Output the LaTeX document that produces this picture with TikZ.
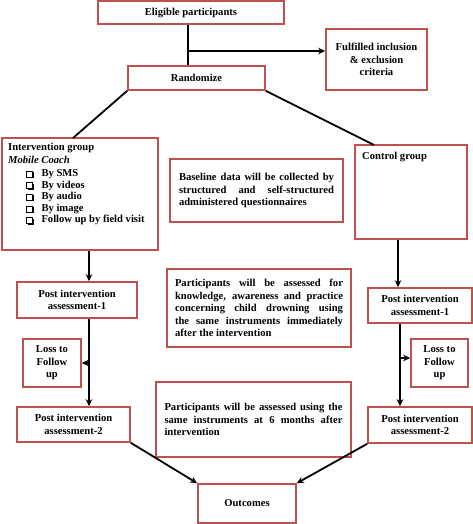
\documentclass[tikz,border=0pt]{standalone}
\usepackage{fontspec}
\setmainfont{Liberation Serif}
\usetikzlibrary{arrows.meta,positioning,shadows}
\definecolor{boxred}{HTML}{C0504D}

\begin{document}
\begin{tikzpicture}[
  x=1pt, y=-1pt,
  font=\fontsize{10.6}{12.5}\selectfont\bfseries,
  box/.style={draw=boxred, line width=1.6pt, fill=white, align=center, inner sep=2pt,
    drop shadow={shadow xshift=1pt, shadow yshift=-1pt, opacity=0.3}},
  para/.style={box, align=justify},
  chk/.style={draw, line width=0.6pt, fill=white, minimum size=6pt, inner sep=0pt,
    drop shadow={shadow xshift=1.1pt, shadow yshift=-1.1pt, opacity=1, fill=black}},
  item/.style={inner sep=0pt, anchor=west},
  ln/.style={line width=1.8pt},
  arr/.style={-{Stealth[length=7pt,width=6.5pt]}, line width=1.8pt}
]
\useasboundingbox (0,0) rectangle (473,524);

% top
\node[box, minimum width=186pt, minimum height=23pt] (elig) at (191,12.5) {Eligible participants};
\node[box, minimum width=101pt, minimum height=61pt] (crit) at (376.5,59.5)
  {Fulfilled inclusion\\ \& exclusion\\ criteria};
\node[box, minimum width=137pt, minimum height=24pt] (rand) at (196.5,78) {Randomize};

% the two arms
\node[box, minimum width=156pt, minimum height=112pt] (intv) at (80,194) {};
\node[item, anchor=north west, align=left] (intvhead) at (8,143)
  {Intervention group\\ \textit{Mobile Coach}};
\foreach \txt [count=\i] in {By SMS, By videos, By audio, By image, Follow up by field visit} {
  \node[chk] (chk\i) at (29.5,{162.4+11.6*\i}) {};
  \node[item, right=8.5pt of chk\i] (item\i) {\txt};
}
\node[box, minimum width=112pt, minimum height=94pt] (ctrl) at (411,192) {};
\node[item, anchor=north west] (ctrlhead) at (362,152) {Control group};

% notes in the middle
\node[para, text width=155pt, inner xsep=9pt, minimum height=63pt] (base) at (256.5,190.5)
  {Baseline data will be collected by\linebreak structured and self-structured\linebreak administered questionnaires};
\node[para, text width=168pt, inner xsep=8pt, minimum height=78pt] (note1) at (259,308)
  {Participants will be assessed for\linebreak knowledge, awareness and practice\linebreak concerning child drowning using\linebreak the same instruments immediately\linebreak after the intervention};
\node[para, text width=178pt, inner xsep=8.5pt, minimum height=75pt] (note2) at (253.5,419.5)
  {Participants will be assessed using the\linebreak same instruments at 6 months after\linebreak intervention};

% assessments
\node[box, minimum width=120pt, minimum height=36pt] (postL1) at (77,300) {Post intervention\\ assessment-1};
\node[box, minimum width=104pt, minimum height=35pt] (postR1) at (420,305.5) {Post intervention\\ assessment-1};
\node[box, minimum width=58pt, minimum height=48pt] (lossL) at (52,363) {Loss to\\ Follow\\ up};
\node[box, minimum width=57pt, minimum height=48pt] (lossR) at (439.5,363) {Loss to\\ Follow\\ up};
\node[box, minimum width=113pt, minimum height=35pt] (postL2) at (73.5,424.5) {Post intervention\\ assessment-2};
\node[box, minimum width=104pt, minimum height=36pt] (postR2) at (420,425) {Post intervention\\ assessment-2};
\node[box, minimum width=98pt, minimum height=39pt] (outc) at (247,503.5) {Outcomes};

% connectors
\coordinate (split) at (188,51);
\coordinate (lx) at (89,0);
\coordinate (rx) at (398,0);
\draw[ln] (elig.south -| split) -- (rand.north -| split);
\draw[arr] (split) -- (split -| crit.west);
\draw[ln] (rand.south west) -- (73,138);
\draw[ln] (rand.south east) -- (374,145);
\draw[arr] (intv.south -| lx) -- (postL1.north -| lx);
\draw[arr] (postL1.south -| lx) -- (postL2.north -| lx);
\draw[arr] (lossL.east -| lx) -- (lossL.east);
\draw[arr] (ctrl.south -| rx) -- (postR1.north -| rx);
\draw[arr] ([xshift=2pt]postR1.south -| rx) -- ([xshift=2pt]postR2.north -| rx);
\draw[arr] ([xshift=2pt,yshift=5pt]lossR.west -| rx) -- ([yshift=5pt]lossR.west);
\draw[arr] (postL2.south east) -- (outc.north west);
\draw[arr] (postR2.south west) -- (outc.north east);
\end{tikzpicture}
\end{document}
